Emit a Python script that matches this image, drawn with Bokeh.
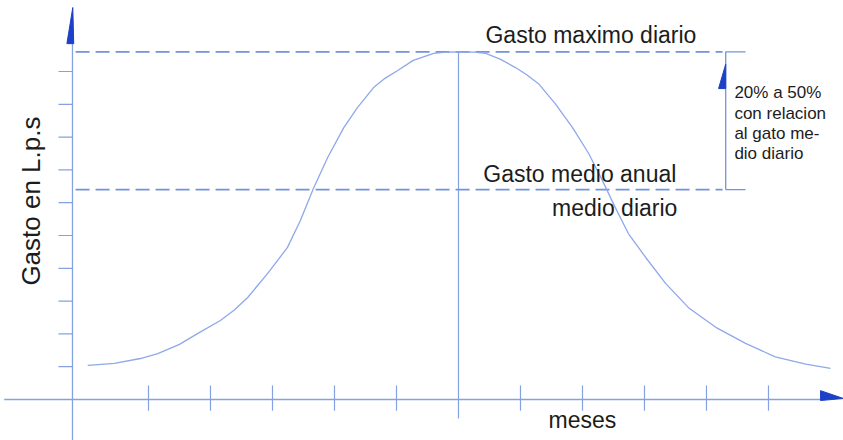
import math
from bokeh.plotting import figure
from bokeh.models import Range1d
from bokeh.embed import file_html
from bokeh.resources import INLINE
from bokeh.core.properties import value

# ---------------- data ----------------
# x: months (0..12), y: gasto in tick units (axis has 10 unlabeled ticks)
months = [0.02, 0.45, 0.87, 1.15, 1.50, 1.79, 2.16, 2.38, 2.60, 2.92, 3.24,
          3.45, 3.66, 3.89, 4.15, 4.37, 4.63, 4.82, 5.02, 5.27, 5.60, 5.80,
          6.03, 6.25, 6.44, 6.68, 6.92, 7.10, 7.29, 7.56, 7.84, 8.10, 8.32,
          8.53, 8.74, 9.02, 9.34, 9.71, 10.15, 10.63, 11.11, 11.60, 12.00]
gasto = [1.04, 1.10, 1.25, 1.40, 1.68, 2.01, 2.41, 2.72, 3.11, 3.84, 4.63,
         5.46, 6.43, 7.38, 8.29, 8.90, 9.51, 9.80, 10.03, 10.34, 10.55, 10.59,
         10.60, 10.59, 10.55, 10.37, 10.12, 9.90, 9.63, 9.02, 8.29, 7.50, 6.68,
         5.85, 5.06, 4.33, 3.54, 2.80, 2.20, 1.71, 1.30, 1.08, 0.95]

gasto_maximo = 10.60      # Gasto maximo diario
gasto_medio = 6.40        # Gasto medio anual / medio diario
mes_pico = 6              # month of the peak
month_ticks = [1, 2, 3, 4, 5, 7, 8, 9, 10, 11]
gasto_ticks = [1, 2, 3, 4, 5, 6, 7, 8, 9, 10]

y_label = "Gasto en L.p.s"
x_label = "meses"
max_label = "Gasto maximo diario"
med_labels = ["Gasto medio anual", "medio diario"]
note_lines = ["20% a 50%", "con relacion", "al gato me-", "dio diario"]

# ---------------- styling ----------------
AXIS_C = "#84a2e0"
CURVE_C = "#8ea8ea"
DASH_C = "#7294da"
ARROW_C = "#1c40c6"
TEXT_C = "#1c1c1c"
FONT = "Liberation Sans"

X0, X1 = -1.387, 12.21
Y0, Y1 = -1.25, 12.165
x_axis_pos = -0.226        # where the vertical axis sits
bracket_x = 10.31
line_end = 10.63

p = figure(width=843, height=440, output_backend="svg", toolbar_location=None,
           x_range=Range1d(X0, X1), y_range=Range1d(Y0, Y1),
           x_axis_type=None, y_axis_type=None, min_border=0,
           background_fill_color="white", border_fill_color="white")
p.outline_line_color = None
p.grid.visible = False

# axes
p.segment(x0=[x_axis_pos], y0=[Y0], x1=[x_axis_pos], y1=[11.7],
          line_color=AXIS_C, line_width=1.3)
p.segment(x0=[X0 + 0.06], y0=[0], x1=[11.84], y1=[0], line_color=AXIS_C, line_width=1.3)

# y ticks (left of axis)
p.segment(x0=[x_axis_pos - 0.226] * len(gasto_ticks), y0=gasto_ticks,
          x1=[x_axis_pos] * len(gasto_ticks), y1=gasto_ticks,
          line_color=AXIS_C, line_width=1.2)
# x ticks
p.segment(x0=month_ticks, y0=[0.43] * len(month_ticks),
          x1=month_ticks, y1=[-0.34] * len(month_ticks),
          line_color=AXIS_C, line_width=1.2)
# peak vertical line
p.segment(x0=[mes_pico], y0=[gasto_maximo], x1=[mes_pico], y1=[-0.58],
          line_color=AXIS_C, line_width=1.2)

# dashed reference lines
p.segment(x0=[x_axis_pos + 0.05] * 2, y0=[gasto_maximo, gasto_medio],
          x1=[bracket_x - 0.05] * 2, y1=[gasto_maximo, gasto_medio],
          line_color=DASH_C, line_width=1.6, line_dash="14 6")
# bracket
p.segment(x0=[bracket_x, bracket_x, bracket_x],
          y0=[gasto_maximo, gasto_maximo, gasto_medio],
          x1=[bracket_x, line_end, line_end],
          y1=[gasto_medio, gasto_maximo, gasto_medio],
          line_color=DASH_C, line_width=1.3)

# curve
p.line(months, gasto, line_color=CURVE_C, line_width=1.3)

# arrows
p.patch([x_axis_pos - 0.09, x_axis_pos + 0.02, x_axis_pos + 0.005],
        [10.85, 10.85, 11.95], color=ARROW_C)
p.patch([11.84, 11.84, X1], [0.27, -0.03, 0.03], color=ARROW_C)
p.patch([bracket_x - 0.115, bracket_x, bracket_x], [9.48, 9.48, 10.22], color=ARROW_C)

# texts
p.text(x=[6.435], y=[gasto_maximo + 0.50], text=[max_label],
       text_font=value(FONT), text_font_size="23px", text_color=TEXT_C,
       text_align="left", text_baseline="alphabetic")
p.text(x=[6.40], y=[gasto_medio + 0.47], text=[med_labels[0]],
       text_font=value(FONT), text_font_size="23px", text_color=TEXT_C,
       text_align="left", text_baseline="alphabetic")
p.text(x=[9.53], y=[gasto_medio - 0.56], text=[med_labels[1]],
       text_font=value(FONT), text_font_size="23px", text_color=TEXT_C,
       text_align="right", text_baseline="alphabetic")
p.text(x=[10.45] * len(note_lines),
       y=[9.35 - 0.615 * i for i in range(len(note_lines))], text=note_lines,
       text_font=value(FONT), text_font_size="17px", text_color=TEXT_C,
       text_align="left", text_baseline="alphabetic")
p.text(x=[8.0], y=[-0.61], text=[x_label],
       text_font=value(FONT), text_font_size="23px", text_color=TEXT_C,
       text_align="center", text_baseline="alphabetic")
p.text(x=[-0.89], y=[6.05], text=[y_label], angle=math.pi / 2,
       text_font=value(FONT), text_font_size="26px", text_color=TEXT_C,
       text_align="center", text_baseline="alphabetic")

open("out.html", "w").write(file_html(p, INLINE))
